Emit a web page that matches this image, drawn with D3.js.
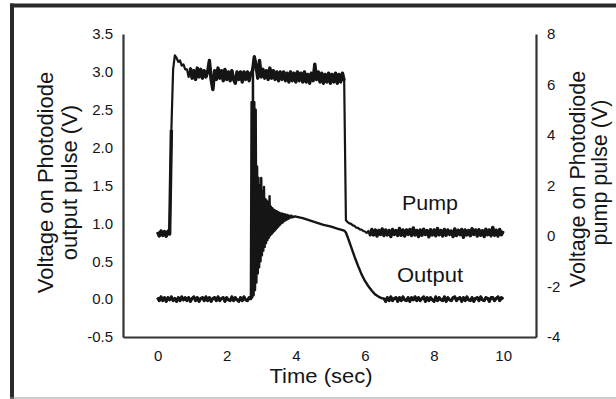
<!doctype html>
<html lang="en">
  <head>
    <title>Photodiode pump and output pulse</title>
    <meta charset="utf-8">
    <script src="https://d3js.org/d3.v7.min.js"></script>
    <style>
      body { margin: 0; background: #fff; }
      svg { display: block; font-family: "Liberation Sans", Arial, sans-serif; }
    </style>
  </head>
  <body>
    <div id="container"></div>
  </body>
  <script>
    // Axis ticks
    const timeTicks = [0, 2, 4, 6, 8, 10]
    const outputTicks = [-0.5, 0, 0.5, 1, 1.5, 2, 2.5, 3, 3.5]
    const pumpTicks = [-4, -2, 0, 2, 4, 6, 8]

    // Pump pulse (right axis, V), one sample every 0.05 s from t = 0
    const pumpStep = 0.05
    const pumpBefore = [0.16, 0.0, 0.2, 0.02, 0.18, -0.01, 0.19, 0.08]
    const pumpRise = [4.2, 6.6, 7.15, 7.05, 6.9, 6.95, 6.75, 6.8, 6.6]
    const pumpTop = [
      6.6, 6.3, 6.65, 6.25, 6.55, 6.2, 6.65, 6.3, 6.6, 6.25,
      6.55, 6.3, 6.5, 6.95, 6.2, 5.8, 6.55, 6.2, 6.65, 6.25,
      6.55, 6.15, 6.6, 6.2, 6.5, 6.15, 6.55, 6.2, 6.05, 6.5,
      6.2, 6.5, 6.1, 6.5, 6.2, 6.5, 6.15, 6.45, 6.55, 7.1,
      6.75, 6.25, 6.95, 6.3, 6.6, 6.25, 6.55, 6.2, 6.65, 6.25,
      6.55, 6.2, 6.5, 6.15, 6.5, 6.2, 6.5, 6.15, 6.45, 6.1,
      6.5, 6.15, 6.45, 6.1, 6.5, 6.15, 6.45, 6.1, 6.5, 6.1,
      6.4, 6.05, 6.45, 6.15, 6.8, 6.2, 6.5, 6.1, 6.45, 6.05,
      6.4, 6.1, 6.45, 6.05, 6.4, 6.1, 6.45, 6.05, 6.4, 6.1,
      6.45, 6.15
    ]
    const pumpFall = [0.62, 0.55, 0.5, 0.48, 0.42, 0.4, 0.33, 0.32, 0.26, 0.25, 0.2, 0.18, 0.12, 0.2]
    const pumpAfter = [
      0.02, 0.26, 0.04, 0.24, 0.0, 0.22, 0.06, 0.28, 0.02, 0.24, 0.04, 0.22, -0.02, 0.26, 0.06, 0.22, 0.02, 0.3, 0.03, 0.24,
      0.0, 0.24, 0.06, 0.26, 0.02, 0.32, 0.04, 0.22, -0.02, 0.24, 0.03, 0.27, 0.06, 0.22, -0.03, 0.25, 0.04, 0.24, 0.01, 0.3,
      0.05, 0.22, 0.0, 0.26, 0.03, 0.24, 0.06, 0.2, -0.02, 0.28, 0.02, 0.23, 0.05, 0.26, -0.05, 0.24, 0.04, 0.22, 0.01, 0.29,
      0.06, 0.24, 0.0, 0.25, 0.03, 0.21, -0.02, 0.27, 0.05, 0.24, 0.01, 0.34, 0.03, 0.23, 0.0, 0.26, 0.05, 0.2
    ]

    // Output pulse (left axis, V)
    const outStep = 0.05
    const outBefore = [
      0.02, -0.02, 0.03, -0.02, 0.02, -0.03, 0.02, -0.01, 0.03, -0.02,
      0.01, -0.03, 0.02, -0.02, 0.03, -0.01, 0.02, -0.02, 0.02, -0.03,
      0.01, 0.03, -0.02, 0.02, -0.03, 0.01, 0.02, -0.02, 0.03, -0.02,
      0.02, -0.03, 0.01, 0.02, -0.02, 0.03, -0.02, 0.01, 0.02, -0.03,
      0.02, -0.01, -0.02, 0.03, -0.02, 0.02, -0.01, -0.03, 0.02, -0.02,
      0.03, -0.01, -0.02, 0.02, 0.0
    ]
    // ringing right after the pump spike, one sample every 0.02 s
    const ringStart = 2.72
    const ringStep = 0.02
    const outRing = [
      2.6, 0.02, 3.05, 0.05, 2.6, 0.12, 2.5, 0.22, 1.75, 0.34,
      1.6, 0.42, 1.5, 0.5, 1.6, 0.58, 1.42, 0.64, 1.48, 0.69,
      1.32, 0.74, 1.3, 0.78, 1.28, 0.81, 1.36, 0.84, 1.22, 0.86,
      1.2, 0.88, 1.18, 0.9, 1.17, 0.92, 1.16, 0.94, 1.15, 0.96,
      1.14, 0.98, 1.13, 1.0, 1.13, 1.01, 1.12, 1.03, 1.12, 1.04,
      1.11, 1.05, 1.11, 1.06, 1.1, 1.07, 1.1, 1.08, 1.1, 1.08
    ]
    const decayTimes = [3.95, 4.0, 4.2, 4.4, 4.6, 4.8, 5.0, 5.2, 5.4, 5.45, 5.5, 5.6, 5.7, 5.8, 5.9, 6.0, 6.1, 6.2, 6.3, 6.4, 6.5]
    const decayVolts = [1.09, 1.09, 1.07, 1.04, 1.01, 0.98, 0.96, 0.93, 0.905, 0.88, 0.82, 0.69, 0.56, 0.44, 0.33, 0.24, 0.17, 0.11, 0.06, 0.03, 0.01]
    const afterStart = 6.55
    const outAfter = [
      0.01, -0.03, 0.02, -0.02, 0.03, -0.02, 0.01, 0.02, -0.03, 0.02,
      -0.02, 0.03, -0.01, -0.02, 0.02, -0.03, 0.02, -0.01, 0.03, -0.02,
      0.02, -0.02, 0.01, 0.03, -0.03, 0.02, -0.02, 0.02, -0.01, -0.03,
      0.03, -0.02, 0.02, -0.01, -0.02, 0.03, -0.03, 0.02, -0.01, -0.02,
      0.02, 0.03, -0.02, 0.01, 0.02, -0.03, 0.02, -0.02, 0.03, -0.01,
      -0.02, 0.02, -0.03, 0.01, 0.02, -0.02, 0.03, -0.01, -0.02, 0.02,
      0.01, -0.03, 0.02, 0.02, -0.02, 0.01, 0.03, -0.02, 0.02, 0.0
    ]

    const width = 616
    const height = 399
    const plotLeft = 123, plotRight = 536, plotTop = 34, plotBottom = 337
    const ink = "#151515"
    const axisColor = "#333"

    const svg = d3.select("#container")
    .append("svg")
      .attr("width", width)
      .attr("height", height)

    // picture frame: dark top/left, light bottom
    svg.append("line").attr("x1", 10).attr("y1", 5.5).attr("x2", width).attr("y2", 5.5)
      .attr("stroke", "#2a2a2a").attr("stroke-width", 4)
    svg.append("line").attr("x1", 12).attr("y1", 3.5).attr("x2", 12).attr("y2", height)
      .attr("stroke", "#2a2a2a").attr("stroke-width", 4)
    svg.append("line").attr("x1", 10).attr("y1", 398).attr("x2", width).attr("y2", 398)
      .attr("stroke", "#999").attr("stroke-width", 1)

    const x = d3.scaleLinear().domain([-1, 10.95]).range([plotLeft, plotRight])
    const yOut = d3.scaleLinear().domain([-0.5, 3.5]).range([plotBottom, plotTop])
    const yPump = d3.scaleLinear().domain([-4, 8]).range([plotBottom, plotTop])

    // build the traces
    const pumpVolts = [...pumpBefore, ...pumpRise, ...pumpTop, ...pumpFall, ...pumpAfter]
    const pumpPoints = pumpVolts.map((v, i) => [i * pumpStep, v])

    const outBeforePts = outBefore.map((v, i) => [i * outStep, v])
    const outAfterPts = outAfter.map((v, i) => [afterStart + i * outStep, v])
    const outPoints = outBeforePts
      .concat(outRing.map((v, i) => [ringStart + i * ringStep, v]))
      .concat(decayTimes.map((t, i) => [t, decayVolts[i]]))
      .concat(outAfterPts)

    function drawTrace(points, yScale, strokeWidth) {
      const line = d3.line().x(d => x(d[0])).y(d => yScale(d[1]))
      svg.append("path").attr("d", line(points))
        .attr("fill", "none")
        .attr("stroke", ink)
        .attr("stroke-width", strokeWidth)
        .attr("stroke-linejoin", "round")
    }

    drawTrace(pumpPoints, yPump, 2.2)
    drawTrace(outPoints, yOut, 2.4)

    // the noisy flat stretches read as a solid band in the scope capture
    const topFrom = pumpBefore.length + pumpRise.length
    const afterFrom = topFrom + pumpTop.length + pumpFall.length
    drawTrace(pumpPoints.slice(0, pumpBefore.length + 1), yPump, 3.4)
    drawTrace(pumpPoints.slice(topFrom + 2, topFrom + pumpTop.length), yPump, 3.4)
    drawTrace(pumpPoints.slice(afterFrom), yPump, 3.4)
    drawTrace(outBeforePts, yOut, 3)
    drawTrace(outAfterPts, yOut, 3)

    function styleAxis(g) {
      g.select(".domain").attr("stroke", axisColor).attr("stroke-width", 2.2)
      g.selectAll("text").attr("fill", ink)
      g.attr("font-size", 15).attr("font-family", null)
    }

    svg.append("g")
      .attr("transform", `translate(${plotLeft},0)`)
      .call(d3.axisLeft(yOut).tickValues(outputTicks).tickFormat(d => d.toFixed(1)).tickSize(0).tickPadding(10))
      .call(styleAxis)

    svg.append("g")
      .attr("transform", `translate(${plotRight},0)`)
      .call(d3.axisRight(yPump).tickValues(pumpTicks).tickFormat(d => String(d)).tickSize(0).tickPadding(11))
      .call(styleAxis)

    svg.append("g")
      .attr("transform", `translate(0,${plotBottom})`)
      .call(d3.axisBottom(x).tickValues(timeTicks).tickFormat(d => String(d)).tickSize(0).tickPadding(13))
      .call(styleAxis)

    // horizontal text, a little wider than the font
    function addLabel(text, px, py, size, anchor) {
      svg.append("text")
        .attr("transform", `translate(${px},${py}) scale(1.1,1)`)
        .attr("text-anchor", anchor)
        .attr("font-size", size)
        .attr("fill", ink)
        .text(text)
    }

    // rotated axis titles
    function addTitle(text, px, py, size) {
      svg.append("text")
        .attr("transform", `translate(${px},${py}) rotate(-90)`)
        .attr("text-anchor", "middle")
        .attr("font-size", size)
        .attr("fill", ink)
        .text(text)
    }

    addLabel("Time (sec)", 321, 383, 20, "middle")
    addLabel("Pump", 402, 210, 19.5, "start")
    addLabel("Output", 397, 282, 20, "start")

    addTitle("Voltage on Photodiode", 52.5, 182.5, 22)
    addTitle("output pulse (V)", 76.5, 182.5, 22)
    addTitle("Voltage on Photodiode", 585, 179, 21.5)
    addTitle("pump pulse (V)", 607, 172.5, 21.5)
  </script>
</html>
